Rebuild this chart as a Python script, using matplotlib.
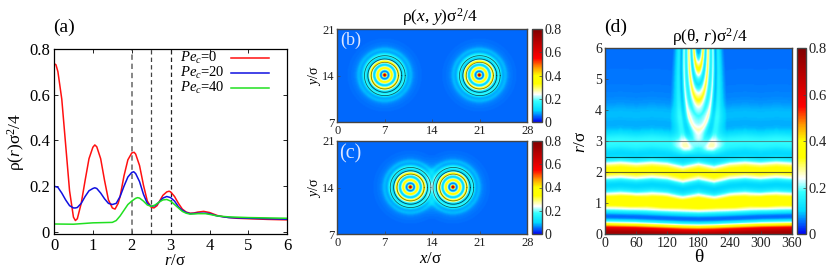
import numpy as np
import matplotlib
matplotlib.use("Agg")
import matplotlib.pyplot as plt
from matplotlib.colors import LinearSegmentedColormap

plt.rcParams.update({
    "font.family": ["Liberation Serif", "DejaVu Serif"],
    "mathtext.fontset": "custom",
    "mathtext.rm": "Liberation Serif",
    "mathtext.it": "Liberation Serif:italic",
    "mathtext.default": "rm",
})

# ---- radial density curves, panel (a)
r0 = [0, .05, .1, .2, .3, .4, .5, .55, .6, .7, .8, .9, 1.0, 1.05, 1.1, 1.2, 1.3, 1.4, 1.5, 1.57, 1.65, 1.7, 1.8, 1.9, 2.0, 2.06, 2.1, 2.2, 2.3, 2.4, 2.5, 2.57, 2.65, 2.7, 2.8, 2.9, 2.96, 3.0, 3.1, 3.2, 3.3, 3.4, 3.5, 3.6, 3.7, 3.85, 4.0, 4.2, 4.4, 4.7, 5.0, 5.5, 6.0]
pe0 = [.735, .73, .70, .58, .38, .18, .065, .05, .058, .125, .225, .32, .37, .38, .372, .32, .225, .14, .105, .10, .125, .155, .245, .315, .345, .348, .34, .29, .205, .135, .108, .105, .115, .13, .16, .175, .178, .175, .155, .125, .10, .087, .082, .083, .087, .09, .085, .072, .065, .06, .058, .055, .053]
r20 = [0, .1, .2, .3, .4, .5, .55, .6, .7, .8, .9, 1.0, 1.05, 1.1, 1.2, 1.3, 1.4, 1.5, 1.6, 1.7, 1.8, 1.9, 2.0, 2.05, 2.1, 2.2, 2.3, 2.4, 2.5, 2.6, 2.7, 2.8, 2.9, 3.0, 3.1, 3.2, 3.3, 3.4, 3.5, 3.7, 3.9, 4.0, 4.2, 4.5, 5.0, 6.0]
pe20 = [.20, .195, .17, .14, .115, .105, .105, .107, .125, .155, .18, .19, .193, .19, .17, .145, .125, .12, .125, .155, .20, .24, .26, .263, .255, .22, .165, .125, .112, .115, .13, .148, .155, .15, .135, .11, .095, .085, .08, .082, .082, .08, .07, .063, .06, .056]
r40 = [0, .5, 1.0, 1.5, 1.6, 1.7, 1.8, 1.9, 2.0, 2.1, 2.15, 2.2, 2.3, 2.4, 2.5, 2.6, 2.7, 2.8, 2.9, 3.0, 3.1, 3.2, 3.3, 3.4, 3.5, 3.7, 3.9, 4.0, 4.2, 4.5, 5.0, 6.0]
pe40 = [.035, .034, .04, .042, .05, .07, .095, .12, .135, .147, .15, .148, .135, .118, .112, .118, .13, .14, .142, .135, .12, .105, .09, .082, .078, .08, .08, .077, .07, .066, .063, .06]
series_labels = ["$\\mathit{Pe_c}$=0", "$\\mathit{Pe_c}$=20", "$\\mathit{Pe_c}$=40"]
series_colors = ["#ff1010", "#1010e0", "#20e020"]
shell_radii = [2.0, 2.5, 3.0]

# ---- density maps, panels (b), (c), (d)
centres_b = [(7.0, 14.0), (21.0, 14.0)]
centres_c = [(10.8, 14.0), (17.1, 14.0)]
background = 0.055
neighbour_dist = 6.35
nb_d = [0, .3, .55, .8, 1.05, 1.3, 1.55, 1.8, 2.05, 2.3, 2.55, 2.8, 3.0, 3.2, 3.4, 3.6, 3.85, 4.1, 4.4, 4.8, 5.2, 9]
nb_excess = [.02, .03, .03, .17, .30, .15, .06, .17, .27, .15, .09, .13, .18, .10, .03, .03, .09, .09, .05, .02, 0, 0]
th_knots = [0, 30, 60, 90, 120, 150, 180, 210, 240, 270, 300, 330, 360]
outer_shift = [0, .03, -.01, .03, -.01, -.12, -.02, -.12, -.01, .03, -.01, .03, 0]
inner_shift = [0, -.01, -.02, -.04, -.06, -.08, -.09, -.08, -.06, -.04, -.02, -.01, 0]
blob_th = [0, 20, 50, 80, 110, 145, 180, 215, 250, 280, 310, 340, 360]
blob_amp = [0, 0, .05, -.03, .05, -.03, .05, -.03, .05, -.03, .05, -.02, 0]

xticks_map = [0, 7, 14, 21, 28]
yticks_map = [7, 14, 21]
cbar_ticks = [0, .2, .4, .6, .8]
cmap = LinearSegmentedColormap.from_list("rho", [
    (0 / .8, (0, 0, .95)), (.055 / .8, (0, .45, 1)), (.1 / .8, (0, .85, 1)),
    (.18 / .8, (.2, 1, 1)), (.24 / .8, (1, 1, 1)), (.33 / .8, (1, 1, 0)),
    (.40 / .8, (1, 1, 0)), (.47 / .8, (1, .6, 0)), (.55 / .8, (1, 0, 0)),
    (.8 / .8, (.5, 0, 0))])

W, H = 830, 269
fig = plt.figure(figsize=(W / 100, H / 100), dpi=100)


def box(l, r, t, b):
    return fig.add_axes([l / W, 1 - b / H, (r - l) / W, (b - t) / H])


def label(x, y, s, size, ha="center", **kw):
    fig.text(x / W, 1 - y / H, s, fontsize=size, ha=ha, va="center", **kw)


def prof(d):
    return np.interp(d, r0, pe0)


def style_map(ax, size):
    for s in ax.spines.values():
        s.set_color("#444444")
        s.set_linewidth(1.0)
    ax.tick_params(labelsize=size, length=2, width=.5, pad=2, direction="in",
                   color="#444444", labelcolor="#222222")


# ---- (a)
ax = box(54, 287.3, 48.7, 234.3)
for r_s, lw, c in zip(shell_radii, [1.1, .9, .9], ["#666666", "#444444", "#222222"]):
    ax.axvline(r_s, color=c, lw=lw, ls=(0, (3.5, 2.5)))
for rs, vals, col in zip([r0, r20, r40], [pe0, pe20, pe40], series_colors):
    ax.plot(rs, vals, color=col, lw=1.1, solid_joinstyle="round")
ax.set_xlim(0, 6)
ax.set_ylim(-.01, .8)
ax.set_xticks(range(7))
ax.set_yticks([0, .2, .4, .6, .8])
ax.set_yticklabels(["0", "0.2", "0.4", "0.6", "0.8"])
ax.tick_params(labelsize=12, direction="in", top=True, right=True, length=3, width=.6, pad=3)
for s in ax.spines.values():
    s.set_linewidth(.9)
for y_px, s, col in zip([58, 72.7, 87.7], series_labels, series_colors):
    label(180, y_px, s, 10.5, ha="left")
    yf = 1 - (y_px - 48.7) / (234.3 - 48.7)
    ax.plot([(230.7 - 54) / 233.3, (268.7 - 54) / 233.3], [yf, yf], color=col, lw=1.1,
            transform=ax.transAxes)
label(64, 27, "(a)", 14)
label(16, 142, "$\\rho(\\mathit{r})\\sigma^2/4$", 12.5, rotation=90)
label(175, 261, "$\\mathit{r}/\\sigma$", 12)

# ---- (b), (c)
xg = np.linspace(0, 28, 281)
yg = np.linspace(7, 21, 141)
XX, YY = np.meshgrid(xg, yg)
for centres, (t, b), pl, pl_y, pl_s in [(centres_b, (29, 122.3), "(b)", 40, 13),
                                        (centres_c, (140.7, 234.3), "(c)", 154, 14.5)]:
    ax = box(337.3, 527.3, t, b)
    Z = np.full_like(XX, background)
    for cx, cy in centres:
        Z = Z + prof(np.hypot(XX - cx, YY - cy)) - background
    im = ax.imshow(Z, extent=[0, 28, 7, 21], origin="lower", cmap=cmap, vmin=0, vmax=.8,
                   aspect="auto", interpolation="bilinear")
    for cx, cy in centres:
        tt = np.linspace(0, 2 * np.pi, 361)
        for r_s, a in zip(shell_radii, [.55, .7, .65]):
            ax.plot(cx + r_s * np.cos(tt), cy + r_s * np.sin(tt), color="k", lw=.55, alpha=a)
    ax.set_xlim(0, 28)
    ax.set_ylim(7, 21)
    ax.set_xticks(xticks_map)
    ax.set_yticks(yticks_map)
    style_map(ax, 9)
    ax.text((350.5 - 337.3) / 190, 1 - (pl_y - t) / (b - t), pl, transform=ax.transAxes,
            fontsize=pl_s, color="#dde6ff", ha="center", va="center")
    cax = box(532.3, 541.7, t, b)
    cb = fig.colorbar(im, cax=cax, ticks=cbar_ticks)
    cb.ax.set_yticklabels(["0", "0.2", "0.4", "0.6", "0.8"])
    style_map(cax, 10)
    label(314, (t + b) / 2, "$\\mathit{y}/\\sigma$", 10, rotation=90)
label(440, 17, "$\\rho(\\mathit{x},\\,\\mathit{y})\\sigma^2/4$", 12.5)
label(430, 259, "$\\mathit{x}/\\sigma$", 12)

# ---- (d)
ax = box(605, 791.7, 48, 234.3)
th = np.linspace(0, 360, 361)
rr = np.linspace(0, 6, 241)
TH, RR = np.meshgrid(th, rr)
wt = np.clip((RR - .8) / .6, 0, 1)
shift = wt * np.interp(TH, th_knots, outer_shift) + (1 - wt) * np.interp(TH, th_knots, inner_shift)
reff = np.clip(RR - shift, 0, None)
phi = np.radians(TH - 180)
dist = np.sqrt(RR**2 + neighbour_dist**2 - 2 * RR * neighbour_dist * np.cos(phi))
band = np.exp(-((RR - 1.05) / .3) ** 2)
Z = prof(reff) * (1 + band * np.interp(TH, blob_th, blob_amp))
Z = Z + np.interp(dist, nb_d, nb_excess) * np.clip((RR - 2.5) / .3, 0, 1)
im = ax.imshow(Z, extent=[0, 360, 0, 6], origin="lower", cmap=cmap, vmin=0, vmax=.8,
               aspect="auto", interpolation="bilinear")
for r_s, c, a in zip(shell_radii, ["#333333", "#003333", "#555555"], [.75, .85, .65]):
    ax.axhline(r_s, color=c, lw=.8, alpha=a)
ax.set_xlim(0, 360)
ax.set_ylim(0, 6)
ax.set_xticks(range(0, 361, 60))
ax.set_yticks(range(7))
style_map(ax, 10)
cax = box(796.7, 805.7, 48, 234.3)
cb = fig.colorbar(im, cax=cax, ticks=cbar_ticks)
cb.ax.set_yticklabels(["0", "0.2", "0.4", "0.6", "0.8"])
style_map(cax, 10.5)
label(616, 27, "(d)", 14)
label(710, 37, "$\\rho(\\theta,\\,\\mathit{r})\\sigma^2/4$", 12.5)
label(581, 142, "$\\mathit{r}/\\sigma$", 12.5, rotation=90)
label(699, 258, "$\\theta$", 14)

fig.savefig("out.png", dpi=100)
